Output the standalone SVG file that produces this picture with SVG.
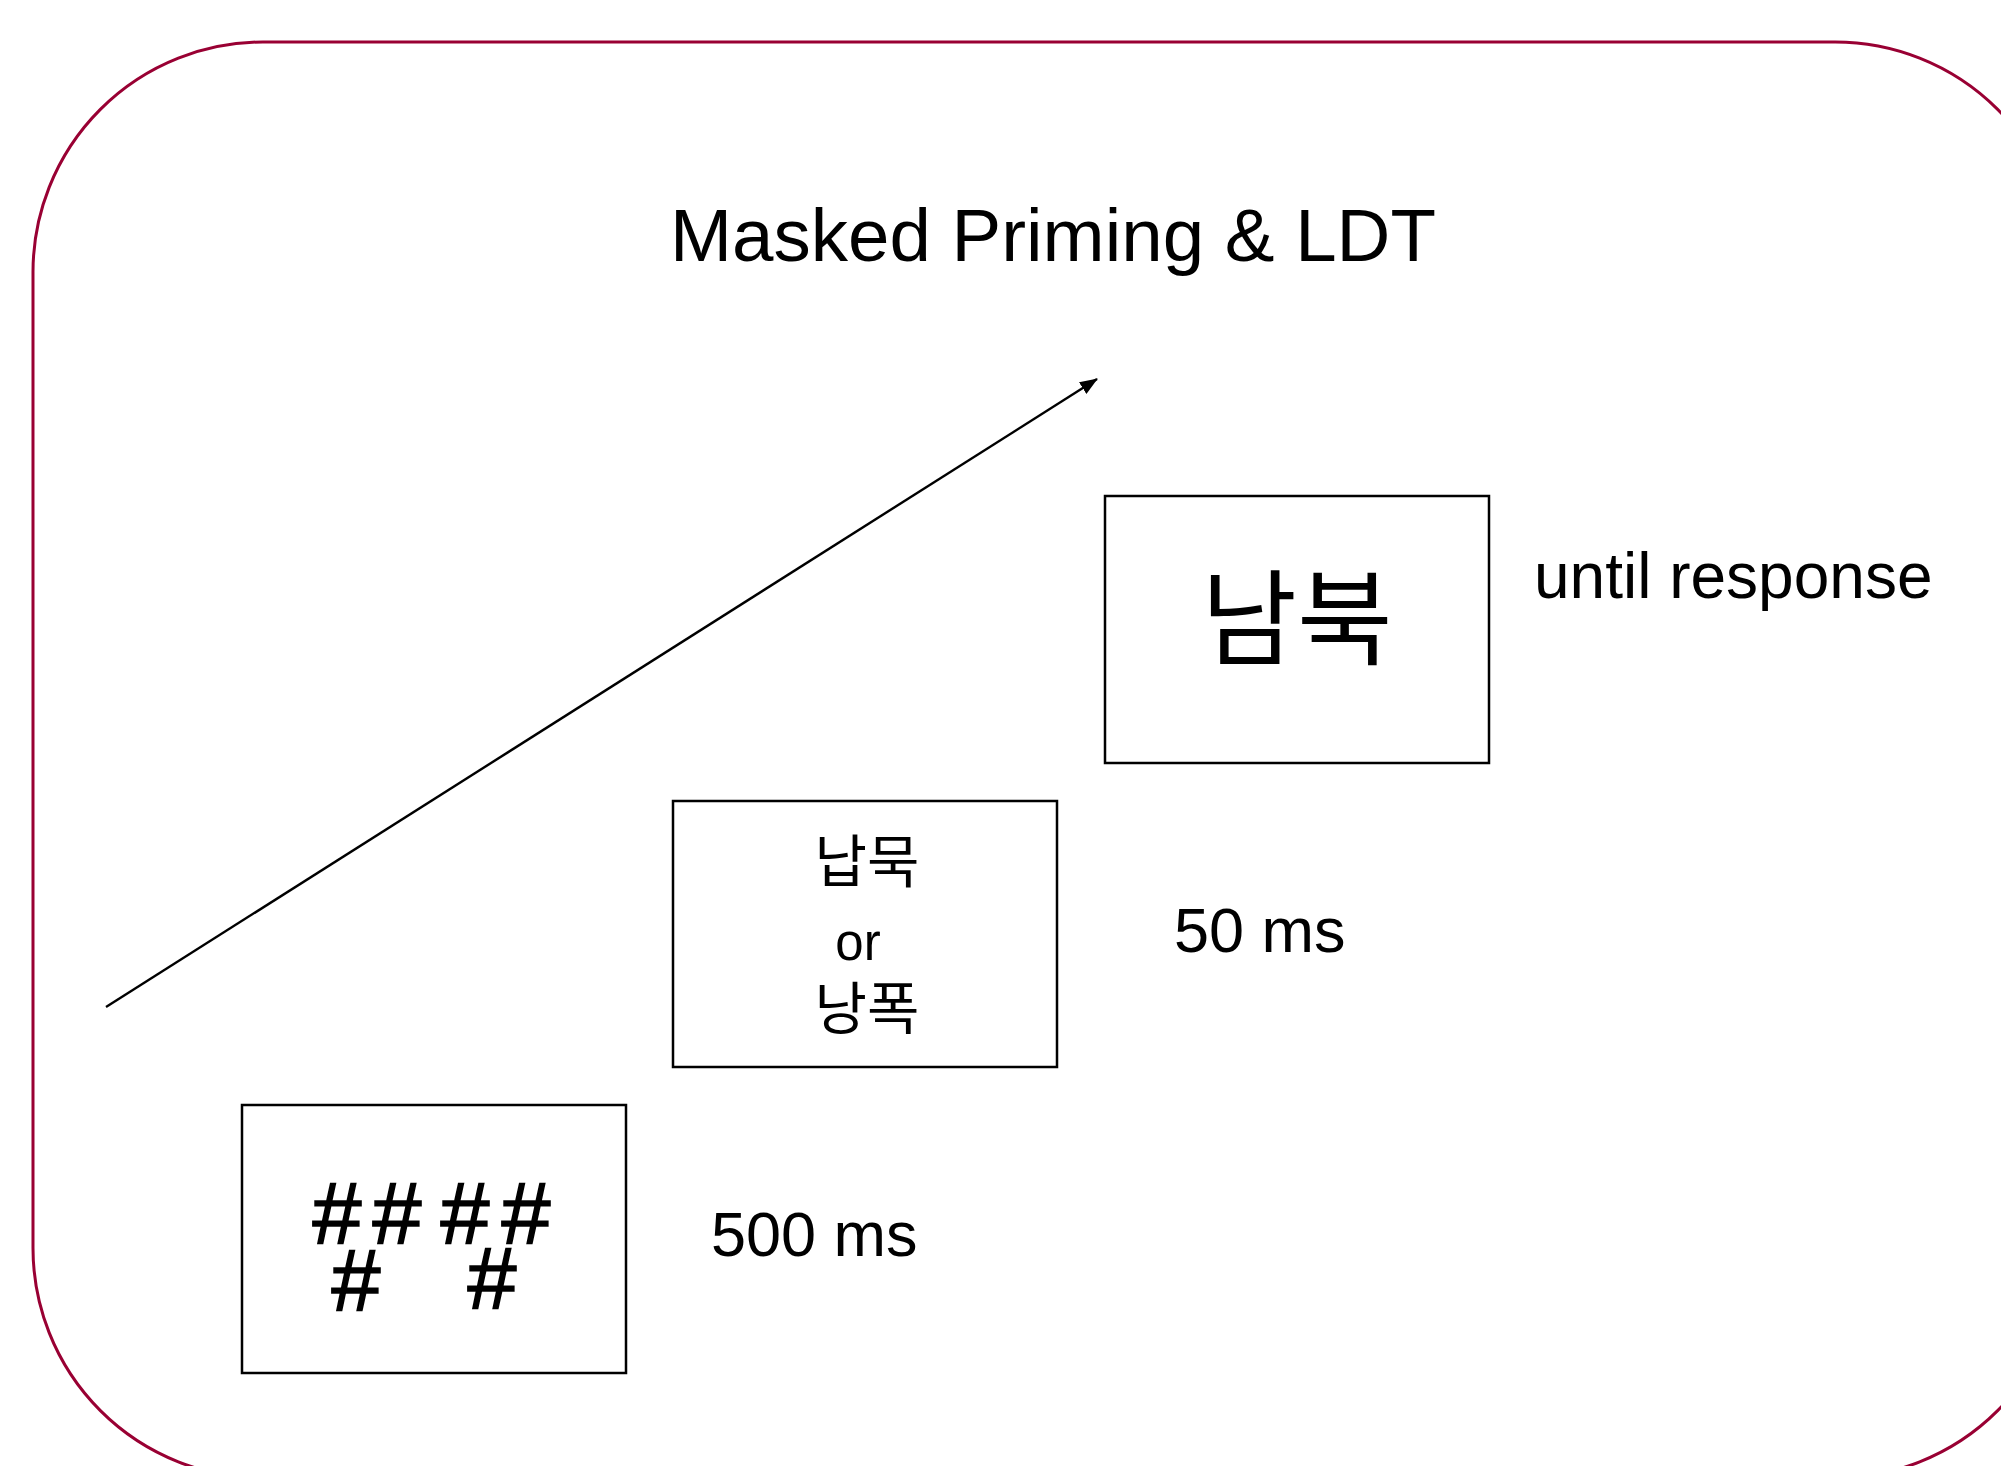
<svg xmlns="http://www.w3.org/2000/svg" width="2001" height="1466" viewBox="0 0 2001 1466">
<style>
.frame{fill:none;stroke:#990033;stroke-width:3}
.box{fill:#fff;stroke:#000;stroke-width:2.5}
.lat{font-family:"Liberation Sans",Arial,sans-serif;fill:#000}
.kor{font-family:"Noto Sans CJK KR","Noto Sans",sans-serif;fill:#000}
.hash{font-family:"Liberation Sans",Arial,sans-serif;font-size:88px;fill:#000;stroke:#000;stroke-width:1.6;text-anchor:middle}
</style>
<defs>
<marker id="arr" markerWidth="18" markerHeight="14" refX="17" refY="7" orient="auto" markerUnits="userSpaceOnUse" viewBox="0 0 18 14">
<path d="M0,0 L18,7 L0,14 z" fill="#000"/>
</marker>
</defs>
<rect class="frame" x="33" y="42" width="2032" height="1436" rx="230" ry="230"/>
<text id="title" class="lat" x="670" y="261" font-size="74.5">Masked Priming &amp; LDT</text>
<g id="connectors">
<line x1="106" y1="1007" x2="1097" y2="379" stroke="#000" stroke-width="2.4" marker-end="url(#arr)"/>
</g>
<g id="mask">
<rect class="box" x="242" y="1105" width="384" height="268"/>
<text class="hash"><tspan x="337" y="1243">#</tspan><tspan x="397" y="1243">#</tspan><tspan x="465" y="1243">#</tspan><tspan x="526" y="1243">#</tspan><tspan x="356" y="1310">#</tspan><tspan x="492" y="1308">#</tspan></text>
</g>
<text id="t500" class="lat" x="711" y="1256" font-size="63">500 ms</text>
<g id="prime">
<rect class="box" x="673" y="801" width="384" height="266"/>
<text text-anchor="middle"><tspan class="kor" x="867" y="882" font-size="57">납묵</tspan><tspan class="lat" x="858" y="960" font-size="51">or</tspan><tspan class="kor" x="867" y="1029" font-size="57">낭폭</tspan></text>
</g>
<text id="t50" class="lat" x="1174" y="952" font-size="63">50 ms</text>
<g id="target">
<rect class="box" x="1105" y="496" width="384" height="267"/>
<text class="kor" x="1297" y="657" font-size="104" text-anchor="middle">남북</text>
</g>
<text id="tuntil" class="lat" x="1534" y="598" font-size="64">until response</text>
</svg>
